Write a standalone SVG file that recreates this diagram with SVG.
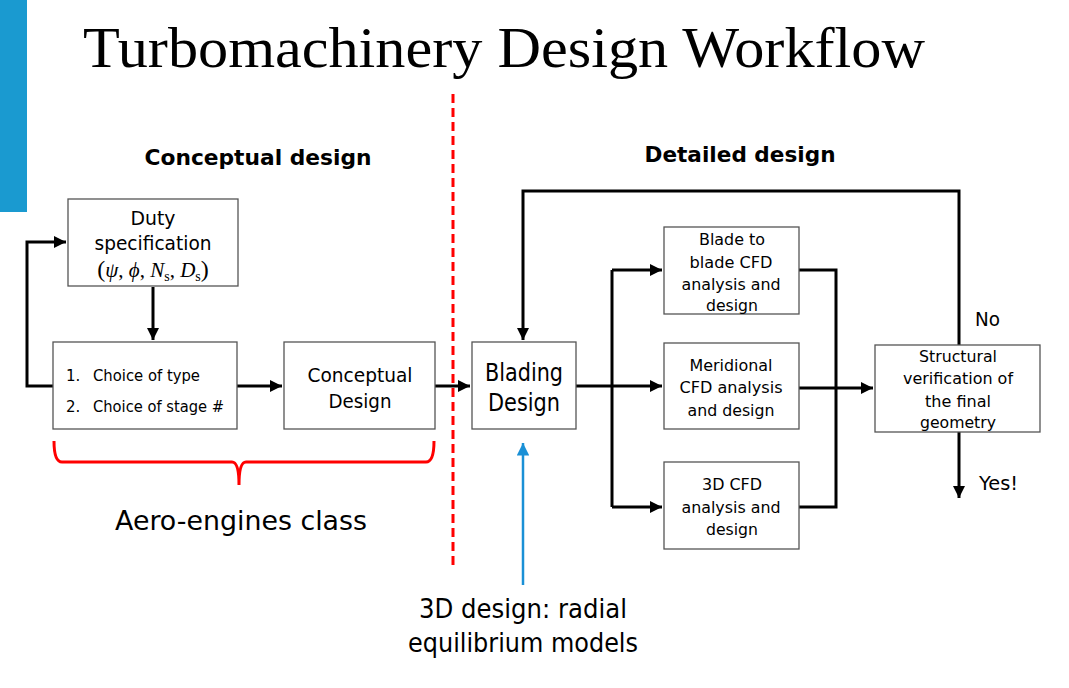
<svg xmlns="http://www.w3.org/2000/svg" width="1069" height="688" viewBox="0 0 1069 688">
<defs>
<style>
.box{fill:#fff;stroke:#555;stroke-width:1.3}
.t{font-family:"DejaVu Sans",sans-serif;fill:#000;text-anchor:middle}
.s{font-family:"DejaVu Sans",sans-serif;fill:#000;text-anchor:start}
.c{fill:none;stroke:#000;stroke-width:3}
</style>
<marker id="ah" viewBox="0 0 10 10" refX="10" refY="5" markerWidth="4" markerHeight="4" markerUnits="strokeWidth" orient="auto">
<path d="M0,0 L10,5 L0,10 z" fill="#000"/>
</marker>
<marker id="ahb" viewBox="0 0 10 10" refX="10" refY="5" markerWidth="5" markerHeight="5" markerUnits="strokeWidth" orient="auto">
<path d="M0,0 L10,5 L0,10 z" fill="#1a90d6"/>
</marker>
</defs>
<rect width="1069" height="688" fill="#fff"/>
<rect x="0" y="0" width="27" height="212" fill="#1a9ad0"/>
<text x="83" y="67" font-family="Liberation Serif,serif" font-size="56" textLength="842" lengthAdjust="spacingAndGlyphs">Turbomachinery Design Workflow</text>
<line x1="453" y1="94" x2="453" y2="570" stroke="#f00" stroke-width="3" stroke-dasharray="9,5"/>
<text class="t" x="258" y="165" font-size="21" font-weight="bold" textLength="227" lengthAdjust="spacingAndGlyphs">Conceptual design</text>
<text class="t" x="740" y="162" font-size="21" font-weight="bold" textLength="191" lengthAdjust="spacingAndGlyphs">Detailed design</text>

<g id="connectors">
<path class="c" d="M153,287 V340" marker-end="url(#ah)"/>
<path class="c" d="M237,386 H282" marker-end="url(#ah)"/>
<path class="c" d="M53,386 H27 V242 H66" marker-end="url(#ah)"/>
<path class="c" d="M435,386 H470" marker-end="url(#ah)"/>
<path class="c" d="M959,345 V191 H523 V340" marker-end="url(#ah)"/>
<path class="c" d="M576,386 H662" marker-end="url(#ah)"/>
<path class="c" d="M612,507 V270"/>
<path class="c" d="M612,270 H662" marker-end="url(#ah)"/>
<path class="c" d="M612,507 H662" marker-end="url(#ah)"/>
<path class="c" d="M799,270 H836 V507 H799"/>
<path class="c" d="M799,388 H873" marker-end="url(#ah)"/>
<path class="c" d="M959,432 V498" marker-end="url(#ah)"/>
<path d="M523,585 V443" fill="none" stroke="#1a90d6" stroke-width="2.5" marker-end="url(#ahb)"/>
</g>

<g id="duty">
<rect class="box" x="68" y="199" width="170" height="87"/>
<text class="t" x="153" y="225" font-size="19" textLength="45" lengthAdjust="spacingAndGlyphs">Duty</text>
<text class="t" x="153" y="250" font-size="19" textLength="117" lengthAdjust="spacingAndGlyphs">specification</text>
<text x="153" y="277" font-family="Liberation Serif,serif" font-size="21" text-anchor="middle"><tspan font-size="24">(</tspan><tspan font-style="italic">ψ</tspan>, <tspan font-style="italic">ϕ</tspan>, <tspan font-style="italic">N</tspan><tspan font-size="14" dy="4">s</tspan><tspan dy="-4">, </tspan><tspan font-style="italic">D</tspan><tspan font-size="14" dy="4">s</tspan><tspan dy="-4" font-size="24">)</tspan></text>
</g>
<g id="choice">
<rect class="box" x="53" y="342" width="184" height="87"/>
<text class="s" x="66" y="381" font-size="15">1.</text>
<text class="s" x="93" y="381" font-size="15" textLength="107" lengthAdjust="spacingAndGlyphs">Choice of type</text>
<text class="s" x="66" y="412" font-size="15">2.</text>
<text class="s" x="93" y="412" font-size="15" textLength="131" lengthAdjust="spacingAndGlyphs">Choice of stage #</text>
</g>
<g id="conceptual">
<rect class="box" x="284" y="342" width="151" height="87"/>
<text class="t" x="360" y="382" font-size="20" textLength="105" lengthAdjust="spacingAndGlyphs">Conceptual</text>
<text class="t" x="360" y="408" font-size="20" textLength="63" lengthAdjust="spacingAndGlyphs">Design</text>
</g>
<g id="brace">
<path d="M54,441 Q54,462 62,462 H232 Q239,462 239,485 Q239,462 246,462 H426 Q434,462 434,441" fill="none" stroke="#f00" stroke-width="3"/>
<text class="t" x="241" y="530" font-size="27" textLength="252" lengthAdjust="spacingAndGlyphs">Aero-engines class</text>
</g>
<g id="blading">
<rect class="box" x="472" y="342" width="104" height="87"/>
<text class="t" x="524" y="381" font-size="24" textLength="78" lengthAdjust="spacingAndGlyphs">Blading</text>
<text class="t" x="524" y="411" font-size="24" textLength="72" lengthAdjust="spacingAndGlyphs">Design</text>
</g>
<g id="radial">
<text class="t" x="523" y="618" font-size="26" textLength="208" lengthAdjust="spacingAndGlyphs">3D design: radial</text>
<text class="t" x="523" y="652" font-size="26" textLength="230" lengthAdjust="spacingAndGlyphs">equilibrium models</text>
</g>
<g id="b2b">
<rect class="box" x="664" y="227" width="135" height="87"/>
<text class="t" x="732" y="245" font-size="16" textLength="66" lengthAdjust="spacingAndGlyphs">Blade to</text>
<text class="t" x="731" y="268" font-size="16" textLength="83" lengthAdjust="spacingAndGlyphs">blade CFD</text>
<text class="t" x="731" y="290" font-size="16" textLength="99" lengthAdjust="spacingAndGlyphs">analysis and</text>
<text class="t" x="732" y="311" font-size="16" textLength="52" lengthAdjust="spacingAndGlyphs">design</text>
</g>
<g id="meridional">
<rect class="box" x="664" y="343" width="135" height="86"/>
<text class="t" x="731" y="371" font-size="16" textLength="83" lengthAdjust="spacingAndGlyphs">Meridional</text>
<text class="t" x="731" y="393" font-size="16" textLength="103" lengthAdjust="spacingAndGlyphs">CFD analysis</text>
<text class="t" x="731" y="416" font-size="16" textLength="87" lengthAdjust="spacingAndGlyphs">and design</text>
</g>
<g id="cfd3d">
<rect class="box" x="664" y="462" width="135" height="87"/>
<text class="t" x="732" y="490" font-size="16" textLength="60" lengthAdjust="spacingAndGlyphs">3D CFD</text>
<text class="t" x="731" y="513" font-size="16" textLength="99" lengthAdjust="spacingAndGlyphs">analysis and</text>
<text class="t" x="732" y="535" font-size="16" textLength="52" lengthAdjust="spacingAndGlyphs">design</text>
</g>
<g id="structural">
<rect class="box" x="875" y="345" width="165" height="87"/>
<text class="t" x="958" y="362" font-size="16" textLength="78" lengthAdjust="spacingAndGlyphs">Structural</text>
<text class="t" x="958" y="384" font-size="16" textLength="110" lengthAdjust="spacingAndGlyphs">verification of</text>
<text class="t" x="958" y="407" font-size="16" textLength="66" lengthAdjust="spacingAndGlyphs">the final</text>
<text class="t" x="958" y="428" font-size="16" textLength="76" lengthAdjust="spacingAndGlyphs">geometry</text>
</g>
<text class="s" x="975" y="326" font-size="20" textLength="25" lengthAdjust="spacingAndGlyphs">No</text>
<text class="s" x="979" y="490" font-size="20" textLength="39" lengthAdjust="spacingAndGlyphs">Yes!</text>
</svg>
